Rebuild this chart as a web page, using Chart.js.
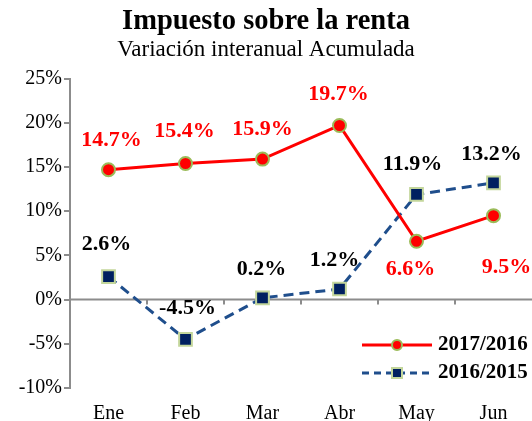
<!DOCTYPE html>
<html><head><meta charset="utf-8">
<script src="https://cdn.jsdelivr.net/npm/chart.js@4"></script>
<style>html,body{margin:0;padding:0;background:#fff}#wrap{width:532px;height:421px}</style>
</head><body><div id="wrap"><canvas id="c" width="532" height="421"></canvas></div>
<script>
const months = ['Ene','Feb','Mar','Abr','May','Jun'];
const series2017 = [14.7, 15.4, 15.9, 19.7, 6.6, 9.5];
const series2016 = [2.6, -4.5, 0.2, 1.2, 11.9, 13.2];
const label2017 = '2017/2016';
const label2016 = '2016/2015';
const titleText = 'Impuesto sobre la renta';
const subtitleText = 'Variación interanual Acumulada';

// label placement (pixel offsets from point): [dx, dy]
const off2017 = [[3,-29],[-1,-32],[0,-30],[-1,-31],[-6,28],[13,52]];
const off2016 = [[-2,-32],[2,-31],[-1,-29],[-5,-29],[-4,-30],[-2,-29]];

const FONT = "'Liberation Serif','Times New Roman',serif";
const AXIS = '#8c8c8c';

const zeroAxisPlugin = {
  id: 'zeroAxis',
  beforeDatasetsDraw(chart) {
    const ctx = chart.ctx, x = chart.scales.x, y = chart.scales.y;
    const y0 = y.getPixelForValue(0);
    ctx.save();
    ctx.strokeStyle = AXIS;
    ctx.lineWidth = 2;
    ctx.beginPath();
    ctx.moveTo(chart.chartArea.left, y0);
    ctx.lineTo(chart.chartArea.right, y0);
    const n = chart.data.labels.length;
    for (let i = 0; i < n - 1; i++) {
      const bx = (x.getPixelForValue(i) + x.getPixelForValue(i + 1)) / 2;
      ctx.moveTo(bx, y0); ctx.lineTo(bx, y0 + 5);
    }
    ctx.stroke();
    ctx.restore();
  }
};

const labelsPlugin = {
  id: 'valLabels',
  afterDatasetsDraw(chart) {
    const ctx = chart.ctx;
    ctx.save();
    ctx.font = 'bold 22px ' + FONT;
    ctx.textAlign = 'center';
    ctx.textBaseline = 'middle';
    chart.data.datasets.forEach((ds, i) => {
      const meta = chart.getDatasetMeta(i);
      const offs = i === 0 ? off2017 : off2016;
      ctx.fillStyle = i === 0 ? '#ff0000' : '#000000';
      meta.data.forEach((pt, j) => {
        const v = ds.data[j];
        ctx.fillText(v.toFixed(1) + '%', pt.x + offs[j][0], pt.y + offs[j][1]);
      });
    });
    ctx.restore();
  }
};

const legendPlugin = {
  id: 'customLegend',
  afterDraw(chart) {
    const ctx = chart.ctx;
    ctx.save();
    const items = [
      {text: label2017, y: 345, color: '#ff0000', dash: [], marker: 'circle'},
      {text: label2016, y: 373, color: '#1f4e8c', dash: [7,5], marker: 'square'}
    ];
    items.forEach(it => {
      ctx.strokeStyle = it.color;
      ctx.lineWidth = 3;
      ctx.setLineDash(it.dash);
      ctx.beginPath();
      ctx.moveTo(362, it.y);
      ctx.lineTo(432, it.y);
      ctx.stroke();
      ctx.setLineDash([]);
      if (it.marker === 'circle') {
        ctx.beginPath();
        ctx.arc(397, it.y, 5, 0, Math.PI*2);
        ctx.fillStyle = '#ff0000';
        ctx.fill();
        ctx.lineWidth = 2;
        ctx.strokeStyle = '#9bbb59';
        ctx.stroke();
      } else {
        ctx.fillStyle = '#002060';
        ctx.fillRect(392, it.y-5, 10, 10);
        ctx.lineWidth = 2;
        ctx.strokeStyle = '#c3d69b';
        ctx.strokeRect(392, it.y-5, 10, 10);
      }
      ctx.fillStyle = '#000';
      ctx.font = 'bold 21px ' + FONT;
      ctx.textAlign = 'left';
      ctx.textBaseline = 'middle';
      ctx.fillText(it.text, 438, it.y);
    });
    ctx.restore();
  }
};

new Chart(document.getElementById('c'), {
  type: 'line',
  data: {
    labels: months,
    datasets: [
      {
        label: label2017, data: series2017,
        borderColor: '#ff0000', borderWidth: 3,
        pointStyle: 'circle', pointRadius: 6.5, pointBackgroundColor: '#ff0000',
        pointBorderColor: '#9bbb59', pointBorderWidth: 2,
        tension: 0, fill: false
      },
      {
        label: label2016, data: series2016,
        borderColor: '#1f4e8c', borderWidth: 3, borderDash: [10,6],
        pointStyle: 'rect', pointRadius: 9, pointBackgroundColor: '#002060',
        pointBorderColor: '#c3d69b', pointBorderWidth: 2,
        tension: 0, fill: false
      }
    ]
  },
  options: {
    responsive: false,
    animation: false,
    devicePixelRatio: 1,
    layout: {autoPadding: false, padding: {left: 0, right: 0, top: 0, bottom: 0}},
    plugins: {
      legend: {display: false},
      tooltip: {enabled: false},
      title: {display: true, text: titleText, color: '#000',
        font: {family: FONT, size: 28.5, weight: 'bold', lineHeight: 1.1},
        padding: {top: 6, bottom: 0}},
      subtitle: {display: true, text: subtitleText, color: '#000',
        font: {family: FONT, size: 23, weight: 'normal', lineHeight: 1.1},
        padding: {top: 0, bottom: 16}}
    },
    scales: {
      x: {
        offset: true,
        grid: {display: false, offset: true},
        border: {display: false},
        ticks: {color: '#000', font: {family: FONT, size: 20}, padding: 6},
        afterFit(s) { s.height = 33; s.paddingLeft = 0; s.paddingRight = 0; }
      },
      y: {
        min: -10, max: 25,
        grid: {drawOnChartArea: false, drawTicks: true, tickLength: 6, color: AXIS, lineWidth: 2},
        border: {display: true, color: AXIS, width: 2},
        ticks: {stepSize: 5, color: '#000', font: {family: FONT, size: 20}, padding: 2,
          callback: v => v + '%'},
        afterFit(s) { s.width = 70; }
      }
    }
  },
  plugins: [zeroAxisPlugin, labelsPlugin, legendPlugin]
});
</script>
</body></html>
